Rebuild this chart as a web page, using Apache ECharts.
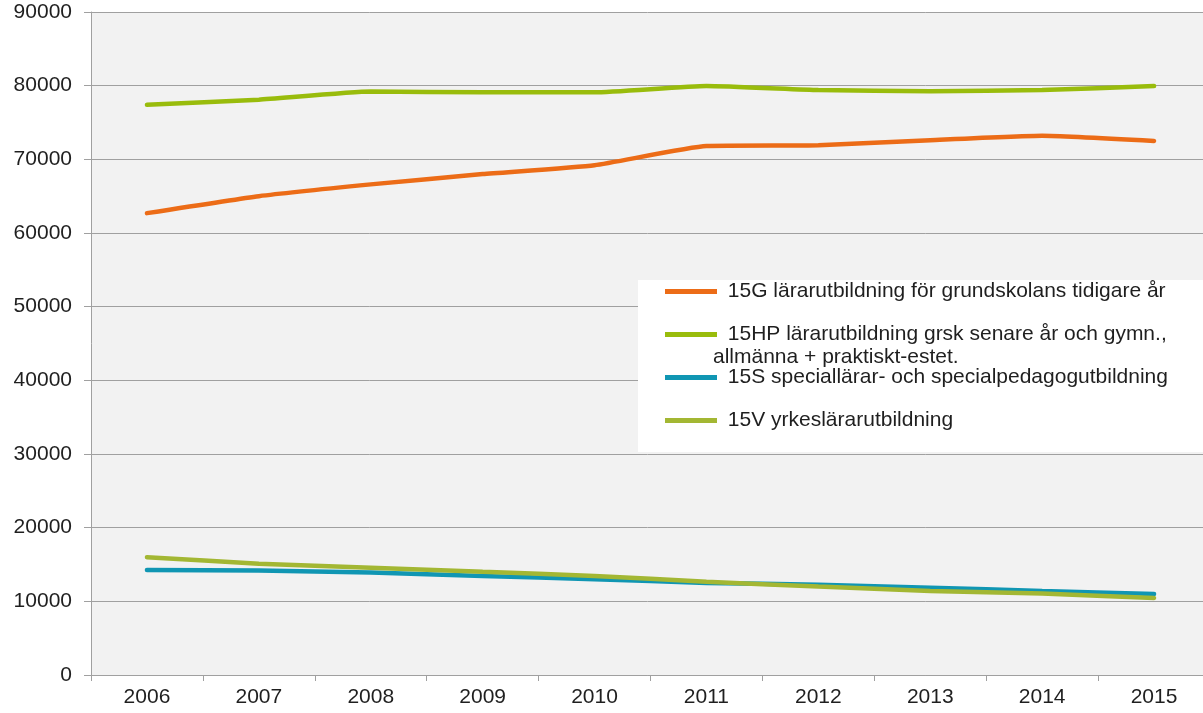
<!DOCTYPE html>
<html>
<head>
<meta charset="utf-8">
<script src="https://cdn.jsdelivr.net/npm/echarts@6/dist/echarts.min.js"></script>
<style>
  html, body { margin: 0; padding: 0; background: #fff; }
  #chart { width: 1203px; height: 713px; }
</style>
</head>
<body>
<div id="chart"></div>
<script>
const years = ['2006', '2007', '2008', '2009', '2010', '2011', '2012', '2013', '2014', '2015']

const names = [
  '15G lärarutbildning för grundskolans tidigare år',
  '15HP lärarutbildning grsk senare år och gymn.,',
  '15S speciallärar- och specialpedagogutbildning',
  '15V yrkeslärarutbildning'
]

const val15G = [62700, 65000, 66600, 68000, 69200, 71800, 71900, 72600, 73200, 72500]
const val15HP = [77400, 78100, 79200, 79100, 79100, 79950, 79400, 79250, 79400, 79950]
const val15S = [14250, 14200, 13900, 13450, 13000, 12500, 12250, 11850, 11400, 11000]
const val15V = [16000, 15100, 14550, 14000, 13450, 12650, 12000, 11400, 11050, 10450]

const colors = ['#ec6c17', '#99bc0c', '#1096b3', '#a3b733']

const chart = echarts.init(document.getElementById('chart'))

const font = 'Liberation Sans, Arial, sans-serif'

const mkSeries = (name, data, i) => ({
  name,
  type: 'line',
  data,
  smooth: 0.15,
  symbol: 'none',
  lineStyle: { width: 4.5, color: colors[i], cap: 'round' },
  itemStyle: { color: colors[i] },
  z: i === 3 ? 4 : 3
})

chart.setOption({
  animation: false,
  backgroundColor: '#fff',
  grid: {
    left: 91,
    top: 12,
    right: -7,
    bottom: 38,
    outerBoundsMode: 'none',
    show: true,
    backgroundColor: '#f2f2f2',
    borderWidth: 0
  },
  legend: {
    orient: 'vertical',
    left: 638,
    top: 280,
    padding: [1, 60, 21, 27],
    backgroundColor: '#fff',
    itemWidth: 52,
    itemHeight: 5,
    itemGap: 22,
    icon: 'rect',
    data: names,
    formatter: n => ' ' + n,
    textStyle: { fontFamily: font, fontSize: 21, color: '#1f1f1f', lineHeight: 20 }
  },
  graphic: [{
    type: 'text',
    left: 713,
    top: 347,
    style: {
      text: 'allmänna + praktiskt-estet.',
      font: '21px ' + font,
      fill: '#1f1f1f'
    },
    z: 100
  }],
  xAxis: {
    type: 'category',
    data: years,
    boundaryGap: true,
    axisLine: { lineStyle: { color: '#a0a0a0', width: 1 } },
    axisTick: { show: true, length: 6, lineStyle: { color: '#a0a0a0' } },
    axisLabel: { margin: 12, fontFamily: font, fontSize: 21, color: '#1f1f1f' }
  },
  yAxis: {
    type: 'value',
    min: 0,
    max: 90000,
    interval: 10000,
    axisLine: { show: true, lineStyle: { color: '#a0a0a0', width: 1 } },
    axisTick: { show: true, length: 7, lineStyle: { color: '#a0a0a0' } },
    splitLine: { lineStyle: { color: '#a0a0a0', width: 1 } },
    axisLabel: {
      margin: 19,
      fontFamily: font,
      fontSize: 21,
      color: '#1f1f1f',
      formatter: v => String(v)
    }
  },
  series: [
    mkSeries(names[0], val15G, 0),
    mkSeries(names[1], val15HP, 1),
    mkSeries(names[2], val15S, 2),
    mkSeries(names[3], val15V, 3)
  ]
})
</script>
</body>
</html>
